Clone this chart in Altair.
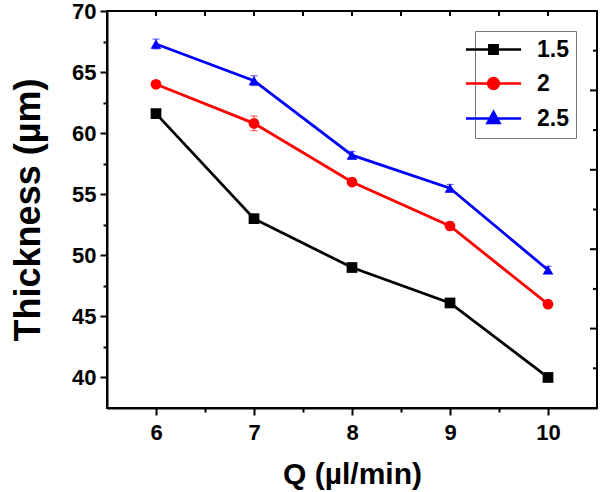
import altair as alt
import pandas as pd

# ---- data ----
flow = [6, 7, 8, 9, 10]
series = ["1.5", "2", "2.5"]
thick_15 = [61.6, 53.0, 49.0, 46.1, 40.0]
thick_2 = [64.0, 60.8, 56.0, 52.4, 46.0]
thick_25 = [67.3, 64.3, 58.2, 55.5, 48.8]
err_15 = [0.3, 0.2, 0.2, 0.2, 0.2]
err_2 = [0.3, 0.6, 0.3, 0.3, 0.3]
err_25 = [0.4, 0.4, 0.3, 0.3, 0.3]

colors = ["#000000", "#ff0000", "#0000ff"]
shapes = ["square", "circle", "triangle-up"]
legend_paths = [
    "M-4.6,0H4.6M-0.7,-0.7H0.7V0.7H-0.7Z",
    "M-4.6,0H4.6M-0.9,0A0.9,0.9 0 1,0 0.9,0A0.9,0.9 0 1,0 -0.9,0Z",
    "M-4.6,0H4.6M0,-1.1L1,0.75H-1Z",
]

x_major = [6, 7, 8, 9, 10]
x_minor = [6.5, 7.5, 8.5, 9.5]
x_top = [6, 6.5, 7, 7.5, 8, 8.5, 9, 9.5, 10]
y_major = [40, 45, 50, 55, 60, 65, 70]
y_minor = [42.5, 47.5, 52.5, 57.5, 62.5, 67.5]
right_long = [63.5, 57.0, 50.5, 44.0]
right_short = [66.75, 60.25, 53.75, 47.25, 40.75]

rows = []
for s, vals, errs in zip(series, [thick_15, thick_2, thick_25], [err_15, err_2, err_25]):
    for q, t, e in zip(flow, vals, errs):
        rows.append({"s": s, "q": q, "t": t, "e": e})
df = pd.DataFrame(rows)
legend_df = pd.DataFrame({"lab": series})

W, H = 490, 397
FONT = "Liberation Sans"
xs = alt.Scale(domain=[5.5, 10.5], nice=False, zero=False)
ys = alt.Scale(domain=[37.5, 70], nice=False, zero=False)
cscale = alt.Scale(domain=series, range=colors)

base = alt.Chart(df)

lines = base.mark_line(strokeWidth=2.8).encode(
    x=alt.X("q:Q", scale=xs, axis=alt.Axis(
        orient="bottom", values=x_major, format="d", tickSize=7, tickWidth=2,
        tickColor="black", domainWidth=2, domainColor="black", labelFont=FONT,
        labelFontSize=22, labelFontWeight="bold", labelColor="black",
        labelPadding=7, grid=False,
        title="Q  (\u00b5l/min)", titleFont=FONT, titleFontSize=30,
        titleFontWeight="bold", titleColor="black", titlePadding=16)),
    y=alt.Y("t:Q", scale=ys, axis=alt.Axis(
        orient="left", values=y_major, format="d", tickSize=7, tickWidth=2,
        tickColor="black", domainWidth=2, domainColor="black", labelFont=FONT,
        labelFontSize=22, labelFontWeight="bold", labelColor="black",
        labelPadding=4, grid=False,
        title="Thickness (\u00b5m)", titleFont=FONT, titleFontSize=36,
        titleFontWeight="bold", titleColor="black", titlePadding=24)),
    color=alt.Color("s:N", scale=cscale, legend=None),
)

errs = base.mark_errorbar(ticks=True, thickness=1.2, size=7, opacity=0.6).encode(
    x=alt.X("q:Q", scale=xs, axis=None),
    y=alt.Y("t:Q", scale=ys, axis=None),
    yError="e:Q",
    color=alt.Color("s:N", scale=cscale, legend=None),
)

points = base.mark_point(filled=True, size=115, opacity=1).encode(
    x=alt.X("q:Q", scale=xs, axis=None),
    y=alt.Y("t:Q", scale=ys, axis=None),
    color=alt.Color("s:N", scale=cscale, legend=None),
    shape=alt.Shape("s:N", scale=alt.Scale(domain=series, range=shapes), legend=None),
)

common = dict(labels=False, domain=False, grid=False, title=None,
              tickColor="black", tickWidth=2)
minor = base.mark_point(opacity=0).encode(
    x=alt.X("q:Q", scale=xs, axis=alt.Axis(orient="bottom", values=x_minor,
                                           tickSize=4, **common)),
    y=alt.Y("t:Q", scale=ys, axis=alt.Axis(orient="left", values=y_minor,
                                           tickSize=4, **common)),
)

# inward ticks on the top and right frame edges
top_ticks = alt.Chart(pd.DataFrame({"v": x_top})).mark_rule(
    strokeWidth=2, color="black").encode(
    x=alt.X("v:Q", scale=xs, axis=None), y=alt.value(0), y2=alt.value(5))
right_long_ticks = alt.Chart(pd.DataFrame({"v": right_long})).mark_rule(
    strokeWidth=2, color="black").encode(
    y=alt.Y("v:Q", scale=ys, axis=None), x=alt.value(W), x2=alt.value(W - 7))
right_short_ticks = alt.Chart(pd.DataFrame({"v": right_short})).mark_rule(
    strokeWidth=2, color="black").encode(
    y=alt.Y("v:Q", scale=ys, axis=None), x=alt.value(W), x2=alt.value(W - 4))

lscale = alt.Scale(domain=series, range=colors)
leg_opts = dict(
    orient="none", legendX=368, legendY=20, symbolSize=144,
    symbolStrokeWidth=2.5, labelFont=FONT, labelFontSize=23,
    labelFontWeight="bold", labelColor="black", labelOffset=32,
    rowPadding=10, padding=7, strokeColor="#777777", fillColor="white",
    symbolOpacity=1)
legend = alt.Chart(legend_df).transform_filter("false").mark_point(
    filled=True, size=144, opacity=1).encode(
    fill=alt.Fill("lab:N", scale=lscale, title=None, legend=alt.Legend(**leg_opts)),
    stroke=alt.Stroke("lab:N", scale=lscale, title=None, legend=alt.Legend(**leg_opts)),
    shape=alt.Shape("lab:N", scale=alt.Scale(domain=series, range=legend_paths),
                    title=None, legend=alt.Legend(**leg_opts)),
)

sub = alt.Chart(pd.DataFrame({"sub": ["c"]})).mark_text(
    font=FONT, fontSize=18, fontWeight="bold", color="black",
    align="center", baseline="top").encode(
    x=alt.value(207), y=alt.value(481), text="sub:N")

chart = alt.layer(
    errs, lines, points, minor, top_ticks, right_long_ticks, right_short_ticks,
    legend, sub
).resolve_scale(
    color="independent", shape="independent", fill="independent", stroke="independent"
).resolve_axis(x="independent", y="independent").properties(
    width=W, height=H, autosize="none",
    padding={"left": 107, "top": 11, "right": 4, "bottom": 84},
).configure_view(stroke="black", strokeWidth=2)

chart.save("out.html", embed_options={"renderer": "svg", "actions": False})
